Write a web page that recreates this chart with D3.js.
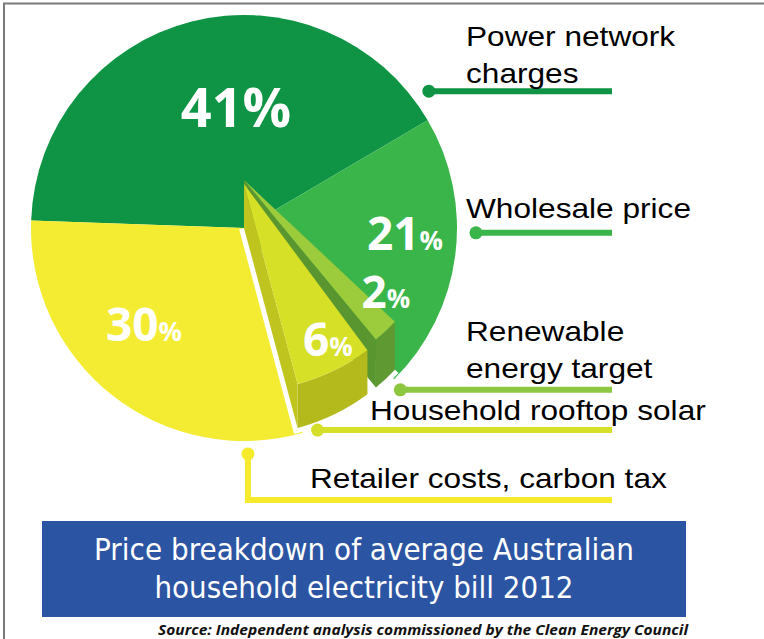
<!DOCTYPE html>
<html>
<head>
<meta charset="utf-8">
<script src="https://cdn.jsdelivr.net/npm/d3@7"></script>
<style>
  body { margin: 0; background: #fff; }
</style>
</head>
<body>
<div class="chart"></div>
<script>
// data
const categories = ["Power network charges", "Wholesale price", "Renewable energy target",
                    "Household rooftop solar", "Retailer costs, carbon tax"];
const shares = [41, 21, 2, 6, 30];
const exploded = [false, false, true, true, false];
const labelLines = [["Power network", "charges"], ["Wholesale price"], ["Renewable", "energy target"],
                    ["Household rooftop solar"], ["Retailer costs, carbon tax"]];
const titleLines = ["Price breakdown of average Australian", "household electricity bill 2012"];
const sourceText = "Source: Independent analysis commissioned by the Clean Energy Council";

// styles
const sliceColor = ["#0e9444", "#39b54a", "#9ccb3b", "#d6e027", "#f3ec33"];
const sideColor  = [null, null, "#5e9a31", "#b4b91c", null];
const edgeColor  = [null, null, "#5a962f", "#c0c41f", null];
const leadColor  = ["#0e9444", "#39b54a", "#8dc63f", "#d5de28", "#f5ea2c"];

// layout
const width = 764, height = 639;
const cx = 244, cy = 228, R = 213, Rx = 207;
const rad = Math.PI / 180;
const startAngle = -88 * rad;
const lift = [0, 0, 48, 44, 0];        // raised slices
const tilt = [0, 0, -2, 1, 0];         // small spread for raised slices, degrees
const pctNudge = [{da: 10.5, r: 123, big: 54, small: 54},
                  {da: -6, r: 161, big: 46, small: 26},
                  {da: -8.8, r: 180, big: 44, small: 26},
                  {da: -2.8, r: 175, big: 46, small: 26},
                  {da: 8.5, r: 138, big: 46, small: 26}];
const leaders = [{a: 53.5, r: 230, tx: 466, dy: -8},
                 {a: 91.2, r: 232, tx: 466, dy: -15},
                 {a: 136, r: 225, tx: 466, dy: -12},
                 {a: 160, r: 215, tx: 370, dy: -10},
                 {a: 179, r: 226, tx: 310, dy: -12, drop: 500}];
const lineEnd = 612;

const svg = d3.select(".chart").append("svg")
    .attr("width", width)
    .attr("height", height);

const rows = categories.map((c, i) => ({name: c, value: shares[i], i}));

const pie = d3.pie()
    .sort(null)
    .value(d => d.value)
    .startAngle(startAngle)
    .endAngle(startAngle + 2 * Math.PI);

const arcs = pie(rows);

const pt = (x0, y0, r, a) => [x0 + r * Math.sin(a), y0 - r * Math.cos(a)];

// flat slices
const arc = d3.arc().innerRadius(0).outerRadius(R);

svg.append("g")
    .attr("transform", `translate(${cx},${cy})`)
    .selectAll("path")
    .data(arcs.filter(d => !exploded[d.data.i]))
    .join("path")
    .attr("fill", d => sliceColor[d.data.i])
    .attr("d", arc);

// raised slices
const raised = arcs.filter(d => exploded[d.data.i]).map(d => {
    const i = d.data.i;
    return {
        i,
        a0: d.startAngle + tilt[i] * rad,
        a1: d.endAngle + tilt[i] * rad,
        h: lift[i]
    };
});

// white halo along bottom edges
svg.append("g")
    .selectAll("path")
    .data(raised)
    .join("path")
    .attr("fill", "none")
    .attr("stroke", "#fff")
    .attr("stroke-width", 10)
    .attr("d", s => {
        const p = d3.path();
        p.moveTo(cx, cy);
        const e = pt(cx, cy, Rx, s.a1);
        p.lineTo(e[0], e[1]);
        p.arc(cx, cy, Rx, s.a1 - Math.PI / 2, s.a0 - Math.PI / 2, true);
        return p.toString();
    });

const topArc = d3.arc().innerRadius(0).outerRadius(Rx);

raised.forEach(s => {
    const g = svg.append("g");
    const top = cy - s.h;

    // outer wall
    const wall = d3.path();
    wall.arc(cx, top, Rx, s.a0 - Math.PI / 2, s.a1 - Math.PI / 2, false);
    const b1 = pt(cx, cy, Rx, s.a1);
    wall.lineTo(b1[0], b1[1]);
    wall.arc(cx, cy, Rx, s.a1 - Math.PI / 2, s.a0 - Math.PI / 2, true);
    wall.closePath();
    g.append("path").attr("d", wall.toString()).attr("fill", sideColor[s.i]);

    // side wall at the end angle
    const t1 = pt(cx, top, Rx, s.a1);
    g.append("path")
        .attr("d", d3.line()([[cx, top], t1, b1, [cx, cy]]) + "Z")
        .attr("fill", edgeColor[s.i]);

    // top face
    g.append("path")
        .attr("transform", `translate(${cx},${top})`)
        .attr("fill", sliceColor[s.i])
        .attr("d", topArc({startAngle: s.a0, endAngle: s.a1}));
});

// percentage labels
svg.append("g")
    .selectAll("text")
    .data(arcs)
    .join("text")
    .attr("fill", "#fff")
    .attr("font-family", "'Open Sans', sans-serif")
    .attr("font-weight", 700)
    .attr("text-anchor", "middle")
    .attr("transform", d => {
        const i = d.data.i, n = pctNudge[i];
        const mid = (d.startAngle + d.endAngle) / 2 + (tilt[i] + n.da) * rad;
        const p = pt(cx, cy - lift[i], n.r, mid);
        return `translate(${p[0]},${p[1] + n.big * 0.4})`;
    })
    .each(function(d) {
        const n = pctNudge[d.data.i];
        const t = d3.select(this);
        t.append("tspan").attr("font-size", n.big).text(d.data.value);
        t.append("tspan").attr("font-size", n.small).text("%");
    });

// leader lines and names
const lead = svg.append("g");
leaders.forEach((l, i) => {
    const p = pt(cx, cy, l.r, l.a * rad);
    const lineY = l.drop ? l.drop : p[1];
    const path = l.drop
        ? d3.line()([p, [p[0], l.drop], [lineEnd, l.drop]])
        : d3.line()([p, [lineEnd, p[1]]]);
    lead.append("path")
        .attr("d", path)
        .attr("fill", "none")
        .attr("stroke", leadColor[i])
        .attr("stroke-width", 6);
    lead.append("circle")
        .attr("cx", p[0])
        .attr("cy", p[1])
        .attr("r", 6.5)
        .attr("fill", leadColor[i]);

    const lines = labelLines[i];
    lines.forEach((txt, k) => {
        const base = lineY + l.dy - (lines.length - 1 - k) * 37;
        lead.append("text")
            .attr("transform", `translate(${l.tx},${base}) scale(1.13,1)`)
            .attr("font-family", "'Liberation Sans', Arial, sans-serif")
            .attr("font-size", 28)
            .attr("fill", "#000")
            .text(txt);
    });
});

// title box
svg.append("rect")
    .attr("x", 42).attr("y", 521)
    .attr("width", 644).attr("height", 96)
    .attr("fill", "#2b54a2");

const titleLen = [540, 419];
svg.append("g")
    .selectAll("text")
    .data(titleLines)
    .join("text")
    .attr("x", 364)
    .attr("y", (d, i) => 560 + i * 38)
    .attr("text-anchor", "middle")
    .attr("fill", "#fff")
    .attr("font-family", "'DejaVu Sans', sans-serif")
    .attr("font-size", 30)
    .attr("textLength", (d, i) => titleLen[i])
    .attr("lengthAdjust", "spacingAndGlyphs")
    .text(d => d);

svg.append("text")
    .attr("x", 158)
    .attr("y", 635)
    .attr("font-family", "'Open Sans', sans-serif")
    .attr("font-style", "italic")
    .attr("font-weight", 700)
    .attr("font-size", 14)
    .attr("textLength", 530)
    .attr("lengthAdjust", "spacingAndGlyphs")
    .attr("fill", "#111")
    .text(sourceText);

// frame
svg.append("path")
    .attr("d", `M4,${height} L4,3.5 L${width},3.5`)
    .attr("fill", "none")
    .attr("stroke", "#7a7a7a")
    .attr("stroke-width", 2);
</script>
</body>
</html>
